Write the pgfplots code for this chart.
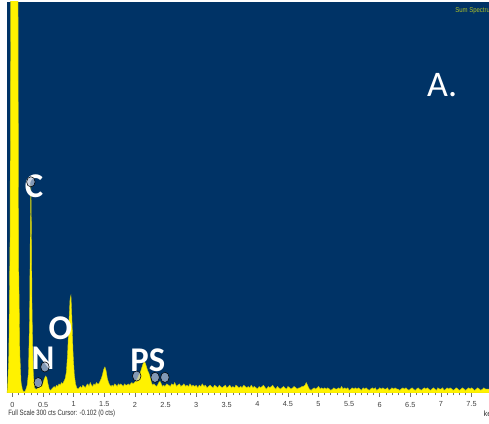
\documentclass[border=0pt]{standalone}
\usepackage{pgfplots}
\pgfplotsset{compat=1.18}
\usepackage{fontspec}
\setmainfont{Liberation Sans}
\newfontfamily\calib{Carlito}
\definecolor{specbg}{RGB}{0,51,102}
\definecolor{specedge}{RGB}{200,200,20}
\definecolor{sumtxt}{RGB}{175,195,40}
\definecolor{pin}{RGB}{185,195,215}

\pgfplotstableread{
x y
-0.09 0
-0.08 5
-0.06 30
-0.04 120
-0.025 400
0.085 400
0.10 100
0.12 30
0.14 8
0.16 3
0.18 1
0.20 1
0.22 3
0.24 6
0.26 15
0.28 60
0.29 120
0.30 160
0.31 120
0.32 60
0.34 15
0.36 4
0.38 3
0.40 3
0.42 5
0.44 4
0.46 6
0.48 5
0.50 8
0.52 11
0.54 13
0.56 12
0.58 7
0.60 3
0.62 2
0.64 3
0.66 4
0.68 5
0.70 4
0.72 6
0.74 5
0.76 7
0.78 6
0.80 8
0.82 7
0.84 9
0.86 11
0.88 16
0.90 30
0.92 52
0.94 72
0.955 75
0.97 58
0.99 30
1.01 14
1.03 7
1.05 4
1.07 3
1.09 4
1.11 5
1.13 4
1.15 6
1.17 5
1.19 4
1.21 6
1.23 7
1.25 5
1.27 8
1.29 6
1.31 5
1.33 7
1.35 6
1.37 8
1.39 7
1.41 7
1.43 9
1.45 11
1.47 14
1.49 18
1.51 20
1.53 17
1.55 11
1.57 8
1.59 6
1.61 5
1.63 6
1.65 5
1.67 7
1.69 6
1.71 5
1.73 7
1.75 6
1.77 7
1.79 6
1.81 5
1.83 7
1.85 6
1.87 6
1.89 7
1.91 6
1.93 7
1.95 8
1.97 7
1.99 8
2.01 9
2.03 10
2.05 12
2.07 14
2.09 16
2.11 19
2.13 22
2.15 24
2.17 23
2.19 20
2.21 17
2.23 15
2.25 12
2.27 8
2.29 6
2.31 7
2.33 6
2.35 5
2.37 6
2.39 8
2.41 9
2.43 7
2.45 5
2.47 6
2.49 5
2.52 7
2.55 6
2.58 5
2.60 7
2.63 6
2.65 8
2.68 5
2.70 6
2.73 7
2.75 5
2.78 6
2.80 7
2.83 5
2.85 6
2.88 5
2.90 7
2.93 5
2.95 6
2.98 5
3.00 6
3.03 4
3.05 6
3.08 5
3.10 7
3.13 5
3.15 6
3.18 4
3.20 5
3.23 6
3.25 5
3.28 4
3.30 6
3.33 5
3.35 4
3.38 6
3.40 5
3.43 4
3.45 5
3.48 6
3.50 4
3.53 5
3.55 6
3.58 4
3.60 5
3.63 4
3.65 6
3.68 5
3.70 4
3.73 5
3.75 4
3.78 6
3.80 5
3.83 4
3.85 5
3.88 4
3.90 6
3.93 4
3.95 5
3.98 4
4.00 3
4.03 5
4.05 4
4.08 5
4.10 6
4.13 4
4.15 3
4.18 5
4.20 4
4.23 5
4.25 6
4.28 4
4.30 3
4.33 5
4.35 4
4.38 3
4.40 4
4.43 5
4.45 4
4.48 3
4.50 5
4.53 4
4.55 3
4.58 4
4.60 5
4.63 4
4.65 3
4.68 4
4.70 4
4.73 5
4.75 5
4.78 6
4.80 8
4.82 6
4.85 3
4.88 2
4.90 3
4.93 4
4.95 3
4.98 4
5.00 5
5.03 3
5.05 4
5.08 3
5.10 4
5.13 3
5.15 4
5.18 3
5.20 2
5.23 3
5.25 4
5.28 3
5.30 3
5.33 4
5.35 3
5.38 5
5.40 3
5.43 4
5.45 3
5.48 4
5.50 2
5.53 3
5.55 4
5.58 3
5.60 4
5.63 3
5.65 4
5.68 3
5.70 2
5.73 4
5.75 3
5.78 4
5.80 3
5.83 2
5.85 3
5.88 4
5.90 3
5.93 4
5.95 2
5.98 3
6.00 4
6.03 3
6.05 4
6.08 3
6.10 3
6.13 4
6.15 2
6.18 3
6.20 4
6.23 3
6.25 4
6.28 3
6.30 3
6.33 2
6.35 3
6.38 4
6.40 3
6.43 4
6.45 3
6.48 2
6.50 3
6.53 4
6.55 3
6.58 2
6.60 3
6.63 4
6.65 3
6.68 2
6.70 3
6.73 4
6.75 3
6.78 4
6.80 3
6.83 2
6.85 3
6.88 4
6.90 3
6.93 2
6.95 4
6.98 3
7.00 3
7.03 4
7.05 2
7.08 3
7.10 4
7.13 3
7.15 4
7.18 3
7.20 2
7.23 3
7.25 4
7.28 3
7.30 2
7.33 3
7.35 4
7.38 3
7.40 2
7.43 3
7.45 4
7.48 3
7.50 4
7.53 3
7.55 2
7.58 3
7.60 4
7.63 3
7.65 2
7.68 3
7.70 4
7.73 3
7.75 3
7.79 3
}\spectrum

% element line markers
\pgfplotstableread{
x y
0.30 162
0.42 8
0.53 20
2.03 13
2.33 12
2.49 12
}\pins

\begin{document}
\begin{tikzpicture}
\path[use as bounding box, fill=white] (0,0) rectangle (366.75pt,318pt);
\begin{axis}[
  at={(5.25pt,23.25pt)}, anchor=south west,
  scale only axis, width=361.5pt, height=293.25pt,
  xmin=-0.09, xmax=7.786, ymin=0, ymax=300,
  axis background/.style={fill=specbg},
  axis line style={draw=none},
  ytick=\empty,
  xtick={0,0.5,...,7.5},
  minor x tick num=4,
  tick align=outside,
  xtick pos=lower,
  major tick length=3pt, minor tick length=1.8pt,
  tick style={black!55, line width=0.4pt},
  /pgf/number format/assume math mode=true,
  xticklabel style={font=\fontsize{5.5}{6}\selectfont, text=black!75, inner sep=1.5pt, yshift=-2pt},
]
\addplot[fill=yellow, draw=specedge, line width=0.3pt] table {\spectrum} \closedcycle;
\addplot[only marks, mark=*, mark size=3.2pt,
  mark options={draw=none, fill=pin, fill opacity=0.7, yscale=1.2}] table {\pins};
\node[text=white, font=\calib\bfseries\fontsize{26}{26}\selectfont] at (axis cs:0.35,159) {C};
\node[text=white, font=\calib\bfseries\fontsize{26}{26}\selectfont] at (axis cs:0.50,27) {N};
\node[text=white, font=\calib\bfseries\fontsize{26}{26}\selectfont] at (axis cs:0.78,50) {O};
\node[text=white, font=\calib\bfseries\fontsize{26}{26}\selectfont] at (axis cs:2.21,25) {PS};
\node[text=white, font=\calib\fontsize{27}{27}\selectfont] at (axis cs:7.02,236) {A.};
\end{axis}
\node[anchor=west, inner sep=0pt, text=black!80] at (6pt,7.5pt)
  {\scalebox{0.78}[1]{\fontsize{5.8}{6}\selectfont Full Scale 300 cts Cursor: -0.102 (0 cts)}};
\node[anchor=west, inner sep=0pt, text=black!80] at (362.5pt,7.5pt)
  {\fontsize{5.8}{6}\selectfont keV};
\node[anchor=west, inner sep=0pt, text=sumtxt] at (341.25pt,309.75pt)
  {\scalebox{0.85}[1]{\fontsize{5.3}{6}\selectfont Sum Spectrum}};
\end{tikzpicture}
\end{document}
